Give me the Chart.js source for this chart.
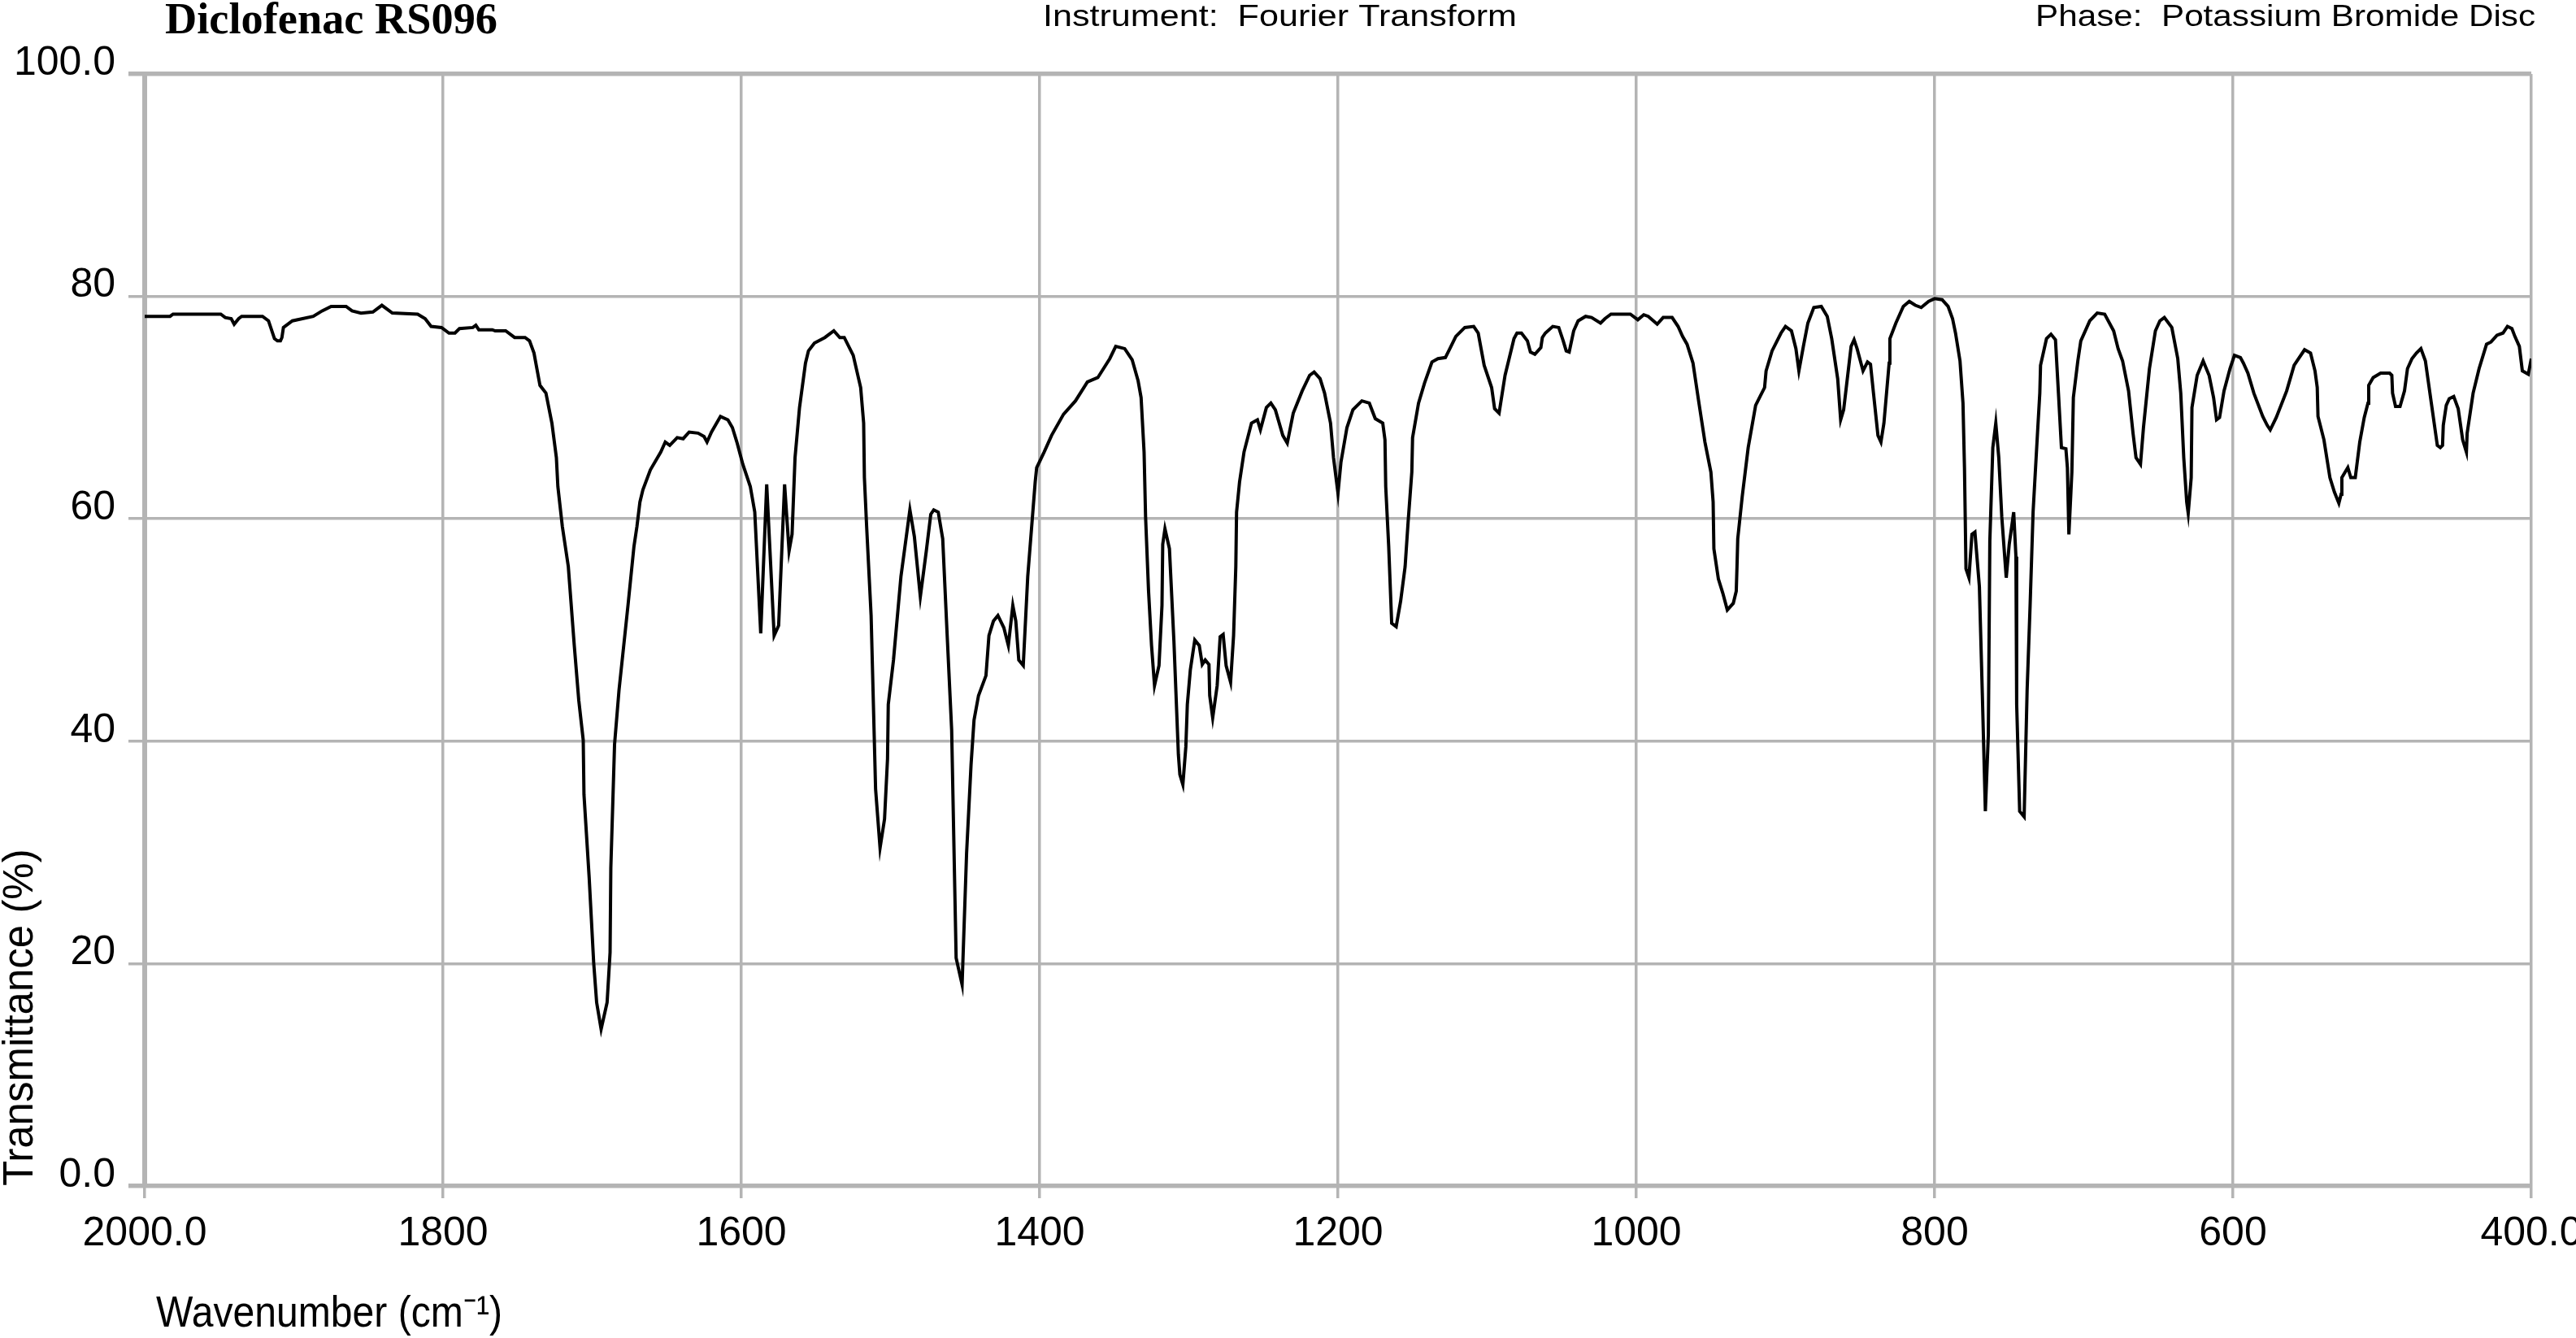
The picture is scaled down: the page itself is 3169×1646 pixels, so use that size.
<!DOCTYPE html>
<html>
<head>
<meta charset="utf-8">
<title>Diclofenac RS096</title>
<script src="https://cdn.jsdelivr.net/npm/chart.js@4.4.1/dist/chart.umd.min.js"></script>
<style>
    html, body { margin: 0; padding: 0; background: #ffffff; }
    #wrap { width: 3169px; height: 1646px; }
</style>
</head>
<body>
<div id="wrap"><canvas id="ir-graph" width="3169" height="1646"></canvas></div>
<script>
// IR spectrum, values (cm-1 / % transmittance)
var wavenumbers = [
    2000, 1983, 1981, 1949, 1946, 1942, 1940, 1937, 1935, 1921, 1917, 1913, 1911, 1909, 1908, 1907,
    1901, 1887, 1881, 1875, 1865, 1861, 1855, 1847, 1841, 1834, 1817, 1812, 1808, 1801, 1796, 1792,
    1789, 1780, 1778, 1776, 1767, 1765, 1758, 1752, 1745, 1742, 1739, 1735, 1731, 1727, 1724, 1723,
    1720, 1716, 1712, 1709, 1706, 1705.5, 1702, 1699, 1697, 1694, 1690, 1688, 1687.5, 1685, 1682, 1676,
    1672, 1670, 1668, 1666, 1661, 1654, 1651, 1648, 1643, 1639, 1635, 1629, 1625, 1623, 1620, 1614,
    1609, 1606, 1603, 1599, 1594, 1591, 1587, 1583, 1578, 1575, 1571, 1568, 1566, 1564, 1561, 1557,
    1555, 1551, 1544, 1538, 1534, 1531, 1525, 1520, 1518, 1517.5, 1516, 1513, 1510, 1507, 1504, 1502,
    1501.5, 1498, 1493, 1487, 1484, 1480, 1476, 1473, 1471, 1468, 1465, 1462, 1459, 1456, 1452, 1449,
    1446, 1444, 1441, 1436, 1434, 1431, 1428, 1424, 1421, 1418, 1416, 1414, 1411, 1408, 1403, 1402,
    1397, 1392, 1384, 1376, 1368, 1361, 1353, 1349, 1343, 1338, 1334, 1332, 1330, 1329, 1327, 1325,
    1323, 1320, 1318, 1317.5, 1316, 1313, 1310, 1307, 1306, 1304, 1302, 1301, 1299, 1296, 1293, 1291,
    1289, 1286.5, 1286, 1284, 1281, 1279, 1277, 1275, 1272, 1270, 1268.5, 1268, 1266, 1263, 1258, 1254,
    1252, 1248, 1245, 1242, 1237, 1234, 1230, 1224, 1219, 1216, 1212, 1209, 1205, 1203, 1200, 1198,
    1194, 1190, 1184, 1179, 1175, 1170, 1168.5, 1168, 1166, 1164, 1161, 1158, 1155, 1153, 1150.5, 1150,
    1146, 1142, 1137, 1133, 1128, 1125, 1121, 1115, 1109, 1106, 1102, 1097, 1095, 1092, 1088, 1082,
    1080, 1077, 1073, 1071, 1068, 1064, 1063, 1061, 1056, 1052, 1049, 1047, 1045, 1042, 1039, 1034,
    1030, 1024, 1021, 1017, 1004, 999, 995, 992, 986, 982, 976, 972, 969, 966, 962, 958,
    954, 950, 948.5, 948, 945, 942, 939, 935, 933, 932.5, 932, 929, 925, 920, 917, 914,
    913, 909, 903, 900, 896, 893, 891, 888, 885, 881, 876, 872, 869, 865, 863, 861,
    856, 854, 852, 848, 845, 843, 841, 838, 836, 834, 830.5, 830, 826, 821, 817, 813,
    809, 804, 800, 795, 791, 788, 786, 783, 781, 780, 779.5, 779, 777, 775, 773, 770,
    768, 766, 764, 763, 761, 759, 757, 755, 752, 750, 747, 745.5, 745, 743, 740, 738,
    736, 734, 731, 729.5, 729, 725, 722, 719, 717, 715, 712, 711, 710, 708, 707, 704,
    702, 696, 691, 686, 680, 677, 674, 670, 667, 665, 662, 660, 656, 652, 649, 646,
    641, 637, 635, 633, 631, 630, 628, 627.5, 624, 620, 616, 613, 611, 609, 606, 602,
    599, 595, 593, 590, 586, 580, 577, 575, 571, 564, 559, 556, 552, 548, 545, 543.5,
    543, 539, 535, 532, 529, 527.5, 527, 523, 521, 518, 515, 512, 509.5, 509, 506, 501,
    495, 493.5, 493, 491, 488, 485, 483, 480, 477, 474, 471, 467, 463, 461, 459.5, 459,
    457, 455, 452, 449, 446, 443.5, 443, 439, 435, 430, 427, 423, 419, 416, 413, 411,
    408, 406, 402, 400
];
var transmittance = [
    78.2, 78.2, 78.4, 78.4, 78.1, 78.0, 77.5, 78.0, 78.2, 78.2, 77.8, 76.2, 76.0, 76.0, 76.3, 77.2,
    77.8, 78.2, 78.7, 79.1, 79.1, 78.7, 78.5, 78.6, 79.2, 78.5, 78.4, 78.0, 77.3, 77.2, 76.7, 76.7,
    77.1, 77.2, 77.4, 77.0, 77.0, 76.9, 76.9, 76.3, 76.3, 76.0, 74.9, 72.0, 71.3, 68.6, 65.5, 62.9,
    59.3, 55.7, 48.6, 43.7, 40.1, 35.2, 27.7, 20.1, 16.5, 14.1, 16.5, 21.0, 28.6, 39.7, 44.6, 52.2,
    57.5, 59.3, 61.5, 62.6, 64.4, 66.0, 66.9, 66.6, 67.3, 67.2, 67.8, 67.7, 67.4, 66.9, 67.8, 69.2,
    68.9, 68.2, 66.9, 64.9, 62.9, 60.6, 49.7, 63.1, 49.5, 50.4, 63.1, 57.1, 58.6, 65.5, 70.0, 74.0,
    75.1, 75.8, 76.3, 76.9, 76.3, 76.3, 74.7, 71.8, 68.6, 63.7, 59.3, 51.3, 35.7, 30.4, 33.0, 38.4,
    43.3, 47.3, 54.8, 60.8, 58.4, 53.0, 57.1, 60.4, 60.8, 60.6, 58.2, 49.5, 41.0, 20.5, 18.1, 29.9,
    37.9, 41.9, 44.1, 45.9, 49.5, 50.8, 51.3, 50.2, 48.6, 52.2, 50.8, 47.3, 46.8, 54.8, 63.3, 64.6,
    66.0, 67.5, 69.4, 70.6, 72.3, 72.7, 74.4, 75.5, 75.3, 74.3, 72.4, 70.9, 66.0, 60.2, 53.5, 48.6,
    45.0, 46.8, 52.2, 57.7, 59.1, 57.3, 49.0, 38.8, 37.0, 36.1, 39.5, 43.3, 46.4, 49.1, 48.6, 46.9,
    47.3, 46.9, 44.1, 42.1, 45.0, 49.4, 49.6, 46.8, 45.3, 49.5, 55.7, 60.6, 63.3, 66.0, 68.6, 68.9,
    68.0, 70.0, 70.4, 69.8, 67.5, 66.8, 69.5, 71.5, 72.9, 73.2, 72.6, 71.3, 68.6, 65.5, 62.3, 65.1,
    68.2, 69.8, 70.6, 70.4, 69.0, 68.6, 67.1, 62.9, 57.5, 50.6, 50.3, 52.6, 55.7, 59.7, 64.2, 67.3,
    70.4, 72.2, 74.1, 74.4, 74.5, 75.3, 76.4, 77.2, 77.3, 76.7, 73.8, 71.8, 69.9, 69.5, 72.9, 76.2,
    76.7, 76.7, 76.0, 75.0, 74.8, 75.4, 76.3, 76.7, 77.3, 77.2, 76.0, 75.1, 75.0, 76.9, 77.8, 78.2,
    78.1, 77.6, 78.0, 78.4, 78.4, 77.9, 78.35, 78.2, 77.5, 78.1, 78.1, 77.3, 76.4, 75.7, 74.0, 70.4,
    66.9, 64.2, 61.5, 57.3, 54.6, 53.3, 51.8, 52.4, 53.5, 55.7, 58.2, 62.0, 66.4, 70.2, 71.0, 71.8,
    73.3, 75.1, 76.7, 77.3, 76.9, 75.3, 73.3, 75.5, 77.6, 79.0, 79.1, 78.2, 76.2, 72.6, 68.9, 69.8,
    75.5, 76.1, 75.3, 73.3, 74.1, 73.9, 71.3, 67.5, 66.9, 68.6, 74.0, 76.2, 77.6, 79.1, 79.55, 79.2,
    79.0, 79.55, 79.8, 79.7, 79.1, 78.0, 76.7, 74.2, 70.4, 64.6, 60.2, 55.5, 54.7, 58.6, 58.8, 53.9,
    44.1, 33.7, 40.6, 58.0, 66.4, 68.6, 65.5, 60.2, 54.7, 57.7, 60.6, 56.6, 43.3, 33.7, 33.2, 44.6,
    52.2, 60.6, 67.8, 71.3, 73.8, 76.2, 76.6, 76.1, 71.3, 66.4, 66.3, 64.6, 58.6, 64.2, 70.9, 74.2,
    76.0, 77.8, 78.5, 78.4, 76.9, 75.3, 74.2, 71.5, 67.7, 65.5, 64.9, 68.2, 73.5, 76.9, 77.8, 78.1,
    77.2, 74.4, 71.3, 65.5, 61.5, 60.5, 63.7, 70.0, 72.9, 74.2, 72.9, 70.9, 68.9, 69.1, 71.5, 73.5,
    74.7, 74.5, 74.0, 73.1, 71.3, 69.2, 68.4, 68.0, 69.1, 71.5, 73.8, 74.4, 75.2, 74.9, 73.3, 71.8,
    69.2, 67.1, 63.7, 62.4, 61.4, 62.2, 63.7, 64.6, 63.7, 63.7, 66.9, 69.1, 70.4, 72.0, 72.7, 73.1,
    73.1, 72.9, 71.3, 70.1, 70.1, 71.5, 73.5, 74.4, 74.9, 75.3, 74.2, 70.4, 66.6, 66.4, 66.6, 68.4,
    70.2, 70.8, 71.0, 69.9, 67.1, 66.0, 67.7, 71.3, 73.5, 75.7, 75.9, 76.5, 76.7, 77.3, 77.1, 76.4,
    75.5, 73.3, 73.0, 74.4
];

// axis ticks
var xTickValues = [2000, 1800, 1600, 1400, 1200, 1000, 800, 600, 400];
var yTickValues = [0, 20, 40, 60, 80, 100];

// texts
var sampleName = "Diclofenac RS096";
var instrumentText = "Instrument:  Fourier Transform";
var phaseText = "Phase:  Potassium Bromide Disc";
var xAxisTitle = "Wavenumber (cm\u207B\u00B9)";
var yAxisTitle = "Transmittance (%)";

var narrowFont = '"Liberation Sans Narrow", "Arial Narrow", "Liberation Sans", Arial, sans-serif';
var gridColor = "#b4b4b4";

function tickLabel(value, edges) {
    if (edges.indexOf(value) >= 0) return value.toFixed(1);
    return String(value);
}

// draws one line of text stretched to the width it has in the picture
function drawFitted(ctx, text, x, y, font, width) {
    ctx.save();
    ctx.font = font;
    ctx.fillStyle = "#000000";
    ctx.textAlign = "left";
    ctx.textBaseline = "alphabetic";
    var w = ctx.measureText(text).width;
    ctx.translate(x, y);
    ctx.scale(width / w, 1);
    ctx.fillText(text, 0, 0);
    ctx.restore();
}

var headerPlugin = {
    id: "headerTexts",
    afterDraw(chart) {
        var ctx = chart.ctx;
        drawFitted(ctx, sampleName, 203, 41, 'bold 54px "Liberation Serif", "Times New Roman", serif', 409);
        drawFitted(ctx, instrumentText, 1283, 32, '37px "Liberation Sans", Arial, sans-serif', 583);
        drawFitted(ctx, phaseText, 2504, 32, '37px "Liberation Sans", Arial, sans-serif', 615);
        drawFitted(ctx, xAxisTitle, 192, 1632, "54px " + narrowFont, 426);
    }
};

var points = [];
for (var i = 0; i < wavenumbers.length; i++) {
    points.push({ x: wavenumbers[i], y: transmittance[i] });
}

var graph = document.getElementById("ir-graph");
var myChart = new Chart(graph, {
    type: "line",
    data: {
        datasets: [{
            data: points,
            borderColor: "#000000",
            borderWidth: 4,
            pointRadius: 0,
            tension: 0,
            fill: false
        }]
    },
    options: {
        responsive: false,
        animation: false,
        devicePixelRatio: 1,
        layout: { padding: { top: 91, right: 55, bottom: 0, left: 0 } },
        plugins: {
            legend: { display: false },
            tooltip: { enabled: false }
        },
        scales: {
            x: {
                type: "linear",
                reverse: true,
                min: 400,
                max: 2000,
                afterBuildTicks(scale) {
                    scale.ticks = xTickValues.map(function (v) { return { value: v }; });
                },
                afterFit(scale) {
                    scale.height = 187;
                    scale.paddingLeft = 0;
                    scale.paddingRight = 0;
                },
                grid: {
                    color: gridColor,
                    lineWidth: 3.5,
                    tickLength: 15
                },
                border: { display: false },
                ticks: {
                    autoSkip: false,
                    maxRotation: 0,
                    padding: 14,
                    color: "#000000",
                    font: { family: narrowFont, size: 50 },
                    callback: function (value) { return tickLabel(value, [2000, 400]); }
                }
            },
            y: {
                min: 0,
                max: 100,
                afterBuildTicks(scale) {
                    scale.ticks = yTickValues.map(function (v) { return { value: v }; });
                },
                afterFit(scale) {
                    scale.width = 178;
                    scale.paddingTop = 0;
                    scale.paddingBottom = 0;
                },
                grid: {
                    color: gridColor,
                    lineWidth: function (c) {
                        return (c.tick && (c.tick.value === 100 || c.tick.value === 0)) ? 5.5 : 3.5;
                    },
                    tickLength: 20
                },
                border: { display: true, color: gridColor, width: 6 },
                title: {
                    display: true,
                    text: yAxisTitle,
                    align: "start",
                    color: "#000000",
                    font: { family: narrowFont, size: 51, lineHeight: 1 },
                    padding: { top: 0, bottom: 0 }
                },
                ticks: {
                    autoSkip: false,
                    padding: 16,
                    labelOffset: -13,
                    color: "#000000",
                    font: { family: narrowFont, size: 50 },
                    callback: function (value) { return tickLabel(value, [0, 100]); }
                }
            }
        }
    },
    plugins: [headerPlugin]
});
</script>
</body>
</html>
